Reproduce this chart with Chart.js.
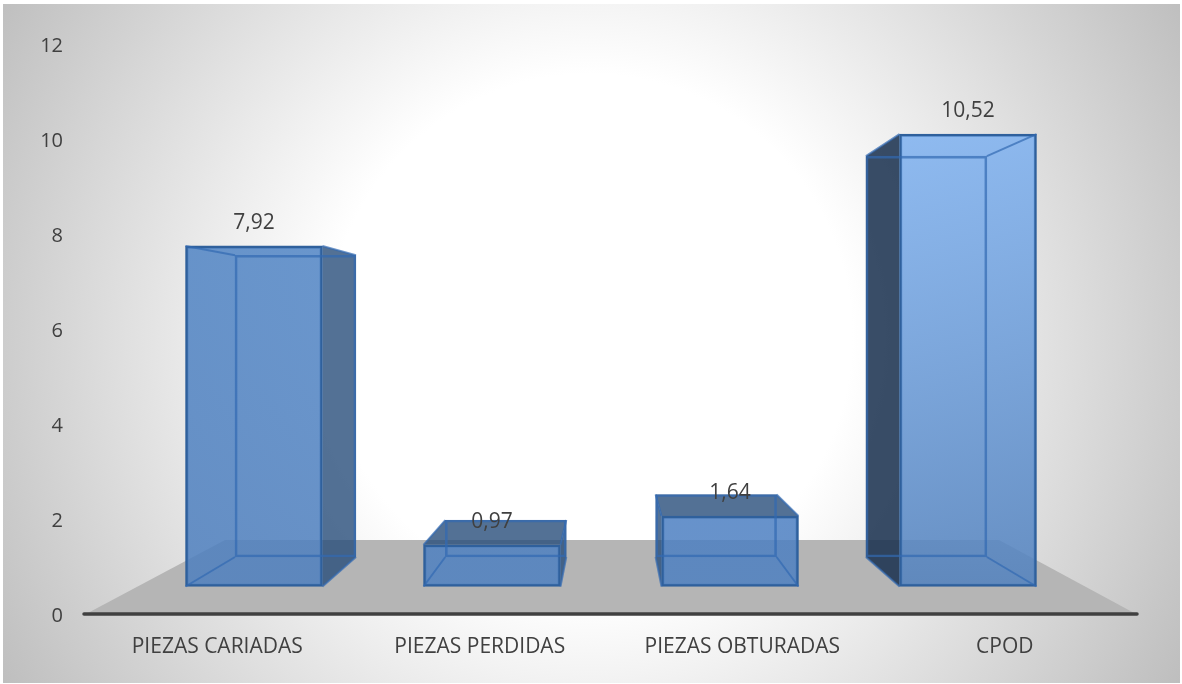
<!DOCTYPE html>
<html>
<head>
<meta charset="utf-8">
<style>
html,body{margin:0;padding:0;background:#fff;overflow:hidden}
#wrap{position:absolute;left:0;top:0;width:1182px;height:684px}
</style>
<script src="https://cdn.jsdelivr.net/npm/chart.js@4"></script>
</head>
<body>
<div id="wrap"><canvas id="c" width="1182" height="684"></canvas></div>
<script>
const categories = ["PIEZAS CARIADAS", "PIEZAS PERDIDAS", "PIEZAS OBTURADAS", "CPOD"];
const values = [7.92, 0.97, 1.64, 10.52];
const yTicks = [0, 2, 4, 6, 8, 10, 12];

const FONT = '"Open Sans", sans-serif';
const TEXT = '#404040';
// perspective planes, expressed as hidden axes: base pixel, pixels per unit
const AREA = {left:86, right:1136, top:44, bottom:614};
function yRange(basePx, perUnit){return {min:-(AREA.bottom-basePx)/perUnit, max:(basePx-AREA.top)/perUnit};}
function xRange(firstPx, step){return {min:(AREA.left-firstPx)/step, max:(AREA.right-firstPx)/step, offset:false};}
const FRONT_W = 137, BACK_W = 121;
const Y_TEXT_SHIFT = 2 / 47.5;
const INNER_LINE = 'rgba(50,105,178,0.7)';

const frontStops = [
  ['rgba(80,132,196,0.85)','rgba(78,127,190,0.85)'],
  ['rgba(78,128,192,0.85)','rgba(78,128,192,0.85)'],
  ['rgba(76,127,194,0.85)','rgba(78,128,192,0.85)'],
  ['rgba(126,177,240,0.85)','rgba(81,129,190,0.85)']
];

const backdrop = {
  id:'backdrop',
  beforeDraw(chart){
    const g = chart.ctx;
    g.save();
    const r = g.createRadialGradient(590,336,262,590,336,690);
    r.addColorStop(0,'#ffffff');
    r.addColorStop(1,'#bdbdbd');
    g.fillStyle = r;
    g.fillRect(3,4,1177,679);
    // floor plane
    const a = chart.chartArea;
    g.fillStyle = '#b5b5b5';
    g.beginPath();
    g.moveTo(a.left,a.bottom);
    g.lineTo(a.right,a.bottom);
    g.lineTo(a.right-137,540);
    g.lineTo(a.left+139,540);
    g.closePath();
    g.fill();
    g.restore();
  }
};

function boxes(chart,i){
  const s = chart.scales, v = values[i];
  const fx = s.xf.getPixelForValue(i), bx = s.xb.getPixelForValue(i);
  return {
    fl:fx-FRONT_W/2, fr:fx+FRONT_W/2, ft:s.yf.getPixelForValue(v), fb:s.yf.getPixelForValue(0),
    bl:bx-BACK_W/2, br:bx+BACK_W/2, bt:s.yb.getPixelForValue(v), bb:s.yb.getPixelForValue(0)
  };
}
function poly(g,pts){
  g.beginPath();
  pts.forEach((p,i)=> i? g.lineTo(p[0],p[1]) : g.moveTo(p[0],p[1]));
  g.closePath();
  g.fill();
}

const prism = {
  id:'prism',
  beforeDatasetsDraw(chart){
    const g = chart.ctx;
    g.save();
    values.forEach((v,i)=>{
      const b = boxes(chart,i);
      g.fillStyle = i===3 ? 'rgba(24,48,78,0.86)' : 'rgba(40,78,122,0.80)';
      if(b.br>b.fr) poly(g,[[b.fr,b.ft],[b.br,b.bt],[b.br,b.bb],[b.fr,b.fb]]);
      if(b.bl<b.fl) poly(g,[[b.fl,b.ft],[b.bl,b.bt],[b.bl,b.bb],[b.fl,b.fb]]);
      if(b.bt<b.ft) poly(g,[[b.fl,b.ft],[b.fr,b.ft],[b.br,b.bt],[b.bl,b.bt]]);
    });
    g.restore();
  },
  afterDatasetsDraw(chart){
    const g = chart.ctx, xs = chart.scales.x;
    g.save();
    values.forEach((v,i)=>{
      const b = boxes(chart,i);
      g.strokeStyle = INNER_LINE;
      g.lineWidth = 2;
      g.beginPath();
      [[b.fl,b.ft,b.bl,b.bt],[b.fr,b.ft,b.br,b.bt],[b.fl,b.fb,b.bl,b.bb],[b.fr,b.fb,b.br,b.bb]].forEach(l=>{
        g.moveTo(l[0],l[1]); g.lineTo(l[2],l[3]);
      });
      g.stroke();
      g.fillStyle = TEXT;
      g.font = '21px '+FONT;
      g.textAlign = 'center';
      g.textBaseline = 'middle';
      g.fillText(v.toFixed(2).replace('.',','), (b.fl+b.fr)/2, b.ft-23);
    });
    // category axis line
    g.strokeStyle = TEXT;
    g.lineWidth = 3.5;
    g.lineCap = 'round';
    g.beginPath();
    g.moveTo(xs.left-2, xs.top);
    g.lineTo(xs.right+1, xs.top);
    g.stroke();
    g.restore();
  }
};

new Chart(document.getElementById('c'),{
  type:'bar',
  data:{
    labels:categories,
    datasets:[
      {
        label:'front',
        data:values.map((v,i)=>({x:i,y:v})),
        xAxisID:'xf', yAxisID:'yf', order:2,
        grouped:false,
        barThickness:FRONT_W,
        borderSkipped:false,
        borderWidth:2.5,
        borderColor:'#2f609c',
        backgroundColor(ctx){
          const i = ctx.dataIndex;
          const a = ctx.chart.chartArea;
          if(!a || i===undefined) return '#5f8abf';
          const s = ctx.chart.scales;
          const top = s.yf.getPixelForValue(values[i]), bot = s.yf.getPixelForValue(0);
          const gr = ctx.chart.ctx.createLinearGradient(0,top,0,bot);
          gr.addColorStop(0,frontStops[i][0]);
          gr.addColorStop(1,frontStops[i][1]);
          return gr;
        }
      },
      {
        label:'back',
        data:values.map((v,i)=>({x:i,y:v})),
        xAxisID:'xb', yAxisID:'yb', order:1,
        grouped:false,
        barThickness:BACK_W,
        borderSkipped:false,
        borderWidth:2,
        borderColor:INNER_LINE,
        backgroundColor:'rgba(0,0,0,0)'
      }
    ]
  },
  options:{
    responsive:false,
    animation:false,
    layout:{padding:{left:0,top:AREA.top,right:1182-AREA.right,bottom:0}},
    plugins:{legend:{display:false},tooltip:{enabled:false},title:{display:false}},
    scales:{
      x:{
        type:'category',
        position:'bottom',
        grid:{display:false,drawTicks:false},
        border:{display:false},
        ticks:{color:TEXT,font:{family:FONT,size:21},padding:20,maxRotation:0,autoSkip:false},
        afterFit(s){s.height=684-AREA.bottom;}
      },
      y:{
        type:'linear',
        position:'left',
        min:yTicks[0]+Y_TEXT_SHIFT,max:yTicks[yTicks.length-1]+Y_TEXT_SHIFT,
        afterBuildTicks(s){s.ticks=yTicks.map(value=>({value}));},
        grid:{display:false,drawTicks:false},
        border:{display:false},
        ticks:{color:TEXT,font:{family:FONT,size:20},padding:23},
        afterFit(s){s.width=AREA.left;}
      },
      xf:{type:'linear',display:false,...xRange(254,238)},
      xb:{type:'linear',display:false,...xRange(295.5,210.3)},
      yf:{type:'linear',display:false,...yRange(586.5,43)},
      yb:{type:'linear',display:false,...yRange(557,38.1)}
    }
  },
  plugins:[backdrop,prism]
});
</script>
</body>
</html>
